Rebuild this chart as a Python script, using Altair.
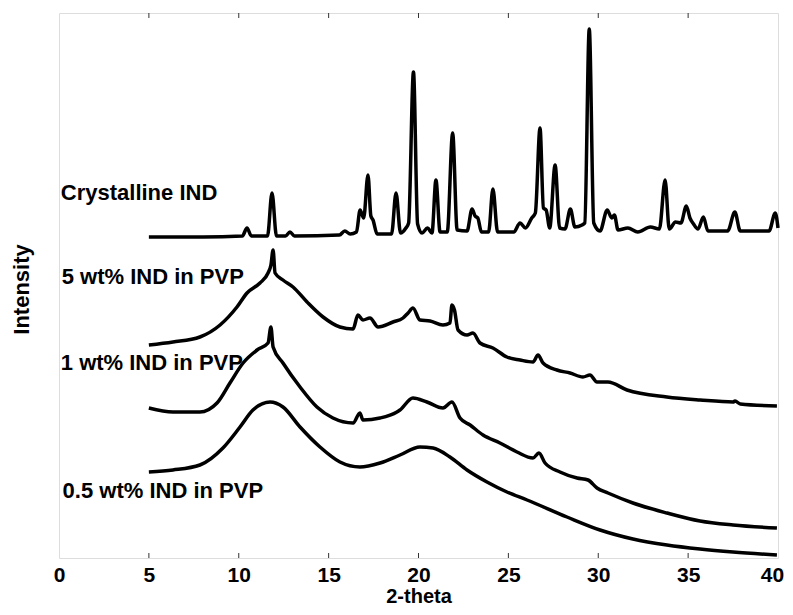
import altair as alt
import pandas as pd

# ---------------- data (2-theta, intensity in arbitrary units incl. vertical offset) ----------------
cryst_x = [5.0, 8.0, 10.2, 10.46, 10.7, 11.6, 11.85, 12.1, 12.6, 12.85, 13.1, 15.6, 15.9, 16.2,
           16.55, 16.75, 16.95, 17.19, 17.35, 17.47, 17.7, 18.5, 18.75, 19.0, 19.3, 19.45, 19.72,
           19.95, 20.2, 20.5, 20.75, 20.97, 21.2, 21.6, 21.9, 22.15, 22.7, 22.98, 23.15, 23.3, 23.5,
           23.9, 24.14, 24.4, 25.3, 25.65, 25.95, 26.3, 26.5, 26.76, 26.95, 27.1, 27.3, 27.6, 27.85,
           28.15, 28.45, 28.7, 29.1, 29.25, 29.5, 29.75, 30.1, 30.5, 30.75, 30.9, 31.1, 31.65, 32.2,
           32.9, 33.4, 33.72, 33.95, 34.3, 34.6, 34.9, 35.1, 35.3, 35.55, 35.85, 36.1, 37.2, 37.6,
           37.9, 39.5, 39.85, 40.0]
cryst_y = [321, 321, 322, 330, 322, 322, 365, 322, 322, 326, 322, 323, 327, 324,
           326, 348, 340, 383, 342, 338, 324, 324, 365, 325, 330, 335, 486,
           334, 325, 330, 325, 378, 326, 326, 425, 328, 327, 349, 342, 340, 326,
           326, 369, 326, 326, 335, 330, 340, 345, 430, 350, 348, 330, 393, 330,
           329, 349, 331, 333, 335, 529, 335, 327, 348, 340, 343, 328, 330, 326,
           331, 329, 378, 329, 336, 335, 352, 340, 334, 329, 341, 327, 327, 346,
           327, 327, 345, 330]

wt5_x = [5.0, 6.34, 7.84, 8.96, 9.90, 10.46, 11.18, 11.63, 11.79, 11.91, 12.02, 12.46, 13.02,
         13.80, 14.69, 15.63, 16.36, 16.63, 16.91, 17.30, 17.75, 18.58, 19.14, 19.42, 19.69,
         20.08, 20.64, 21.36, 21.75, 21.86, 22.0, 22.20, 22.70, 23.03, 23.42, 24.14, 24.92,
         25.65, 26.37, 26.65, 26.93, 27.70, 28.43, 29.15, 29.54, 29.93, 30.54, 31.60, 33.82,
         35.66, 37.50, 37.61, 37.9, 39.94]
wt5_y = [213, 216, 221, 233, 251, 265, 275, 285, 293, 308, 285, 278, 271,
         256, 241, 231, 229, 243, 238, 240, 231, 236, 240, 245, 250,
         238, 237, 233, 235, 253, 248, 228, 223, 225, 215, 210, 201,
         198, 196, 203, 195, 188, 185, 181, 183, 176, 176, 168, 161,
         158, 156, 157, 154, 152]

wt1_x = [5.0, 6.34, 7.84, 8.79, 9.51, 10.24, 11.02, 11.63, 11.79, 11.91, 12.46, 13.41, 14.35,
         15.24, 16.36, 16.74, 16.91, 17.86, 18.80, 18.97, 19.69, 20.47, 21.36, 21.86, 22.31,
         22.87, 23.59, 24.53, 25.48, 26.37, 26.70, 27.04, 27.87, 28.82, 29.43, 29.93, 30.54,
         31.93, 33.82, 35.66, 37.50, 39.94]
wt1_y = [150, 146, 146, 155, 175, 195, 208, 215, 231, 211, 195, 171, 151,
         140, 135, 145, 138, 140, 146, 148, 160, 156, 150, 156, 140,
         133, 123, 115, 106, 100, 105, 95, 86, 80, 78, 70, 65,
         55, 45, 37, 33, 30]

wt05_x = [5.0, 6.34, 7.84, 9.12, 10.07, 10.79, 11.74, 12.46, 13.41, 14.52, 15.63, 16.74, 17.86,
          18.97, 20.08, 20.81, 21.75, 22.70, 23.81, 24.92, 26.04, 28.26, 30.10, 31.93, 33.82,
          35.66, 37.50, 39.94]
wt05_y = [86, 88, 93, 110, 131, 148, 156, 151, 131, 111, 96, 91, 95,
          103, 111, 110, 101, 88, 76, 66, 58, 41, 28, 19, 13,
          9, 6, 3]

series_names = ["Crystalline IND", "5 wt% IND in PVP", "1 wt% IND in PVP", "0.5 wt% IND in PVP"]
label_x = [0.1, 0.15, 0.1, 0.2]
label_y = [365, 281, 195, 67]

x_ticks = [0, 5, 10, 15, 20, 25, 30, 35, 40]
inner_ticks = [5, 10, 15, 20, 25, 30, 35]

# ---------------- build tables ----------------
frames = []
for name, xs, ys in zip(series_names,
                        [cryst_x, wt5_x, wt1_x, wt05_x],
                        [cryst_y, wt5_y, wt1_y, wt05_y]):
    frames.append(pd.DataFrame({"theta": xs, "intensity": ys, "series": name}))
df = pd.concat(frames, ignore_index=True)

labels_df = pd.DataFrame({"theta": label_x, "intensity": label_y, "text": series_names})
ticks_df = pd.DataFrame({"theta": inner_ticks})

FONT = "Liberation Sans"
W, H = 719, 545

x_scale = alt.Scale(domain=[0, 40], nice=False, zero=False)
y_scale = alt.Scale(domain=[0, 545], nice=False, zero=False)

lines = alt.Chart(df).mark_line(color="black", strokeWidth=3.5, strokeJoin="round",
                                interpolate="monotone").encode(
    x=alt.X("theta:Q", scale=x_scale,
            axis=alt.Axis(values=x_ticks, title="2-theta", ticks=False, domain=False, grid=False,
                          labelFont=FONT, labelFontSize=21, labelFontWeight="bold", labelColor="black",
                          labelBaseline="middle", labelPadding=17, labelFlush=False,
                          labelOffset={"condition": {"test": "datum.value == 40", "value": -6},
                                       "value": 0},
                          titleFont=FONT, titleFontSize=20, titleFontWeight="bold", titleColor="black",
                          titleBaseline="middle", titleX=W / 2, titleY=38)),
    y=alt.Y("intensity:Q", scale=y_scale,
            axis=alt.Axis(title="Intensity", labels=False, ticks=False, domain=False, grid=False,
                          titleFont=FONT, titleFontSize=22, titleFontWeight="bold", titleColor="black",
                          titleAngle=270, titleBaseline="middle", titleAlign="center",
                          titleX=-38, titleY=276)),
    detail="series:N",
)

texts = alt.Chart(labels_df).mark_text(
    align="left", baseline="middle", font=FONT, fontSize=22, fontWeight="bold", color="black"
).encode(
    x=alt.X("theta:Q", scale=x_scale),
    y=alt.Y("intensity:Q", scale=y_scale),
    text="text:N",
)

bottom_ticks = alt.Chart(ticks_df).mark_rule(color="#333", strokeWidth=1).encode(
    x=alt.X("theta:Q", scale=x_scale),
    y=alt.value(H),
    y2=alt.value(H - 5),
)
top_ticks = alt.Chart(ticks_df).mark_rule(color="#333", strokeWidth=1).encode(
    x=alt.X("theta:Q", scale=x_scale),
    y=alt.value(0),
    y2=alt.value(5),
)

chart = alt.layer(lines, texts, bottom_ticks, top_ticks).properties(
    width=W, height=H,
    autosize=alt.AutoSizeParams(type="none"),
    padding={"left": 51, "top": 5, "right": 7, "bottom": 49},
).configure_view(stroke="#222", strokeWidth=1.5).configure(background="white")

chart.save("out.html", embed_options={"renderer": "svg", "actions": False})
